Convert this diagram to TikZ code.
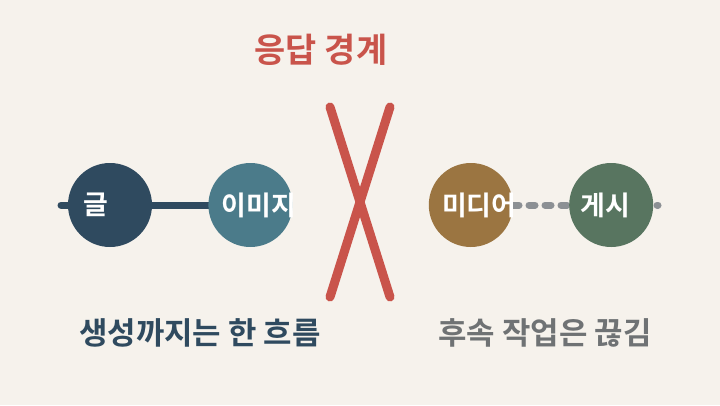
\documentclass[tikz,border=0pt]{standalone}
\usepackage{fontspec}
\setmainfont{Noto Sans CJK KR}[BoldFont={* Bold}]
\usepackage{tikz}
\usetikzlibrary{positioning, backgrounds}
\definecolor{bgcol}{HTML}{F6F2EC}
\definecolor{navy}{HTML}{2F4A5F}
\definecolor{teal}{HTML}{4B7B8A}
\definecolor{ochre}{HTML}{9B7541}
\definecolor{moss}{HTML}{587560}
\definecolor{cut}{HTML}{C9544B}
\definecolor{ash}{HTML}{8C9094}
\definecolor{ashtext}{HTML}{6F7274}
\begin{document}
\begin{tikzpicture}[x=1bp, y=1bp,
     node distance = 56bp and 56bp,
       dot/.style = {circle, minimum size=84bp, inner sep=0pt},
       lbl/.style = {anchor=west, inner sep=0pt, text=white, font=\bfseries\fontsize{27}{32}\selectfont},
      note/.style = {inner sep=0pt, font=\bfseries\fontsize{31}{36}\selectfont},
       bar/.style = {line width=9bp, line cap=round, cut}
                        ]
\useasboundingbox (0,0) rectangle (720,405);
\node (title) [note, text=cut, font=\bfseries\fontsize{34}{40}\selectfont] at (321,355) {응답 경계};
\node (geul)  [dot, fill=navy] at (110,200) {};
\node (img)   [dot, fill=teal, right =of geul] {};
\node (media) [dot, fill=ochre, right =136bp of img] {};
\node (post)  [dot, fill=moss, right =of media] {};
\node (tgeul)  [lbl] at ([xshift=-27bp]geul.center) {글};
\node (timg)   [lbl] at ([xshift=-29bp]img.center) {이미지};
\node (tmedia) [lbl] at ([xshift=-29bp]media.center) {미디어};
\node (tpost)  [lbl] at ([xshift=-31bp]post.center) {게시};
\coordinate (lstart) at (61,200);
\coordinate (rend)   at (658,200);
\coordinate (xa) at (330,298);
\coordinate (xb) at (390,108);
\coordinate (xc) at (390,298);
\coordinate (xd) at (330,108);
\draw[bar] (xa) -- (xb);
\draw[bar] (xc) -- (xd);
\node (left)  [note, text=navy] at (200,72) {생성까지는 한 흐름};
\node (right) [note, text=ashtext] at (545,72) {후속 작업은 끊김};
\begin{scope}[on background layer]
\fill[bgcol] (0,0) rectangle (720,405);
\draw[navy, line width=7bp, line cap=round] (lstart) to (img.center);
\draw[ash, line width=7bp, line cap=round, dash pattern=on 6bp off 10bp] (media.east) to (rend);
\end{scope}
\end{tikzpicture}
\end{document}
